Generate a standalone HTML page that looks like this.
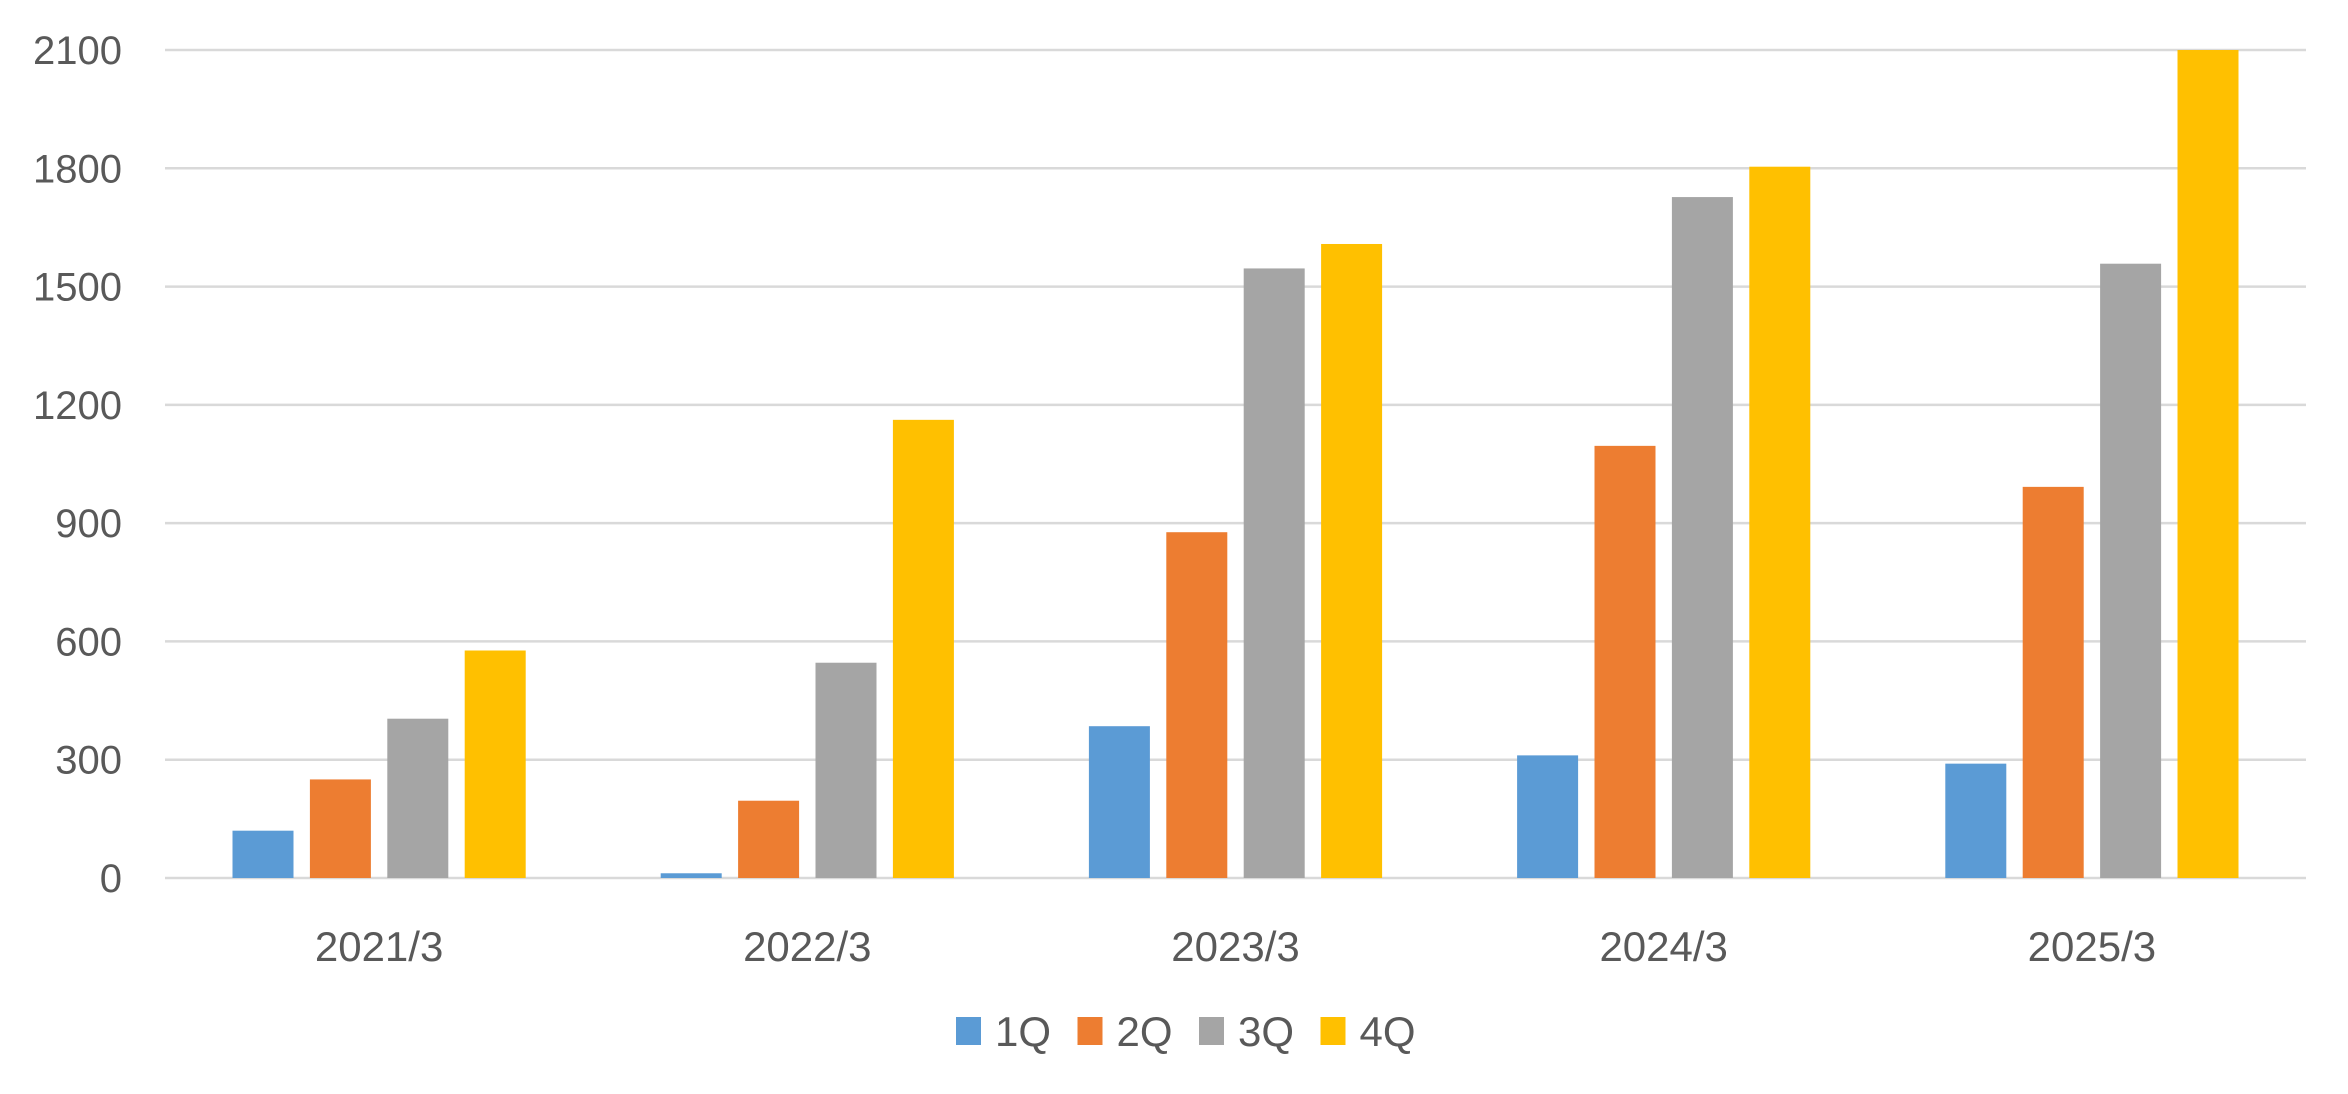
<!DOCTYPE html>
<html><head><meta charset="utf-8"><style>
html,body{margin:0;padding:0;background:#fff;}
svg{display:block;font-family:"Liberation Sans",sans-serif;}
</style></head><body>
<svg id="chart" width="2348" height="1094" viewBox="0 0 2348 1094" xmlns="http://www.w3.org/2000/svg">
<g id="grid"></g>
<g id="yaxis"></g>
<g id="bars"></g>
<g id="xaxis"></g>
<g id="legend"></g>
</svg>
<script>
const categories = ["2021/3","2022/3","2023/3","2024/3","2025/3"];
const seriesNames = ["1Q","2Q","3Q","4Q"];
const q1 = [120, 12, 385, 311, 290];
const q2 = [250, 196, 877, 1096, 992];
const q3 = [404, 546, 1546, 1727, 1558];
const q4 = [577, 1162, 1608, 1804, 2100];
const yTicks = [0, 300, 600, 900, 1200, 1500, 1800, 2100];

const series = [q1, q2, q3, q4];
const colors = ["#5b9bd5", "#ed7d31", "#a5a5a5", "#ffc000"];
const NS = "http://www.w3.org/2000/svg";
const plotL = 165, plotR = 2306, plotT = 50, plotB = 878;
const yMax = 2100;
function y(v){ return plotB - (v / yMax) * (plotB - plotT); }
const catW = (plotR - plotL) / categories.length;
const barW = 61, barPitch = 77.4;
const groupW = barPitch * (series.length - 1) + barW;
function x(ci, si){ return plotL + ci * catW + (catW - groupW) / 2 + si * barPitch; }
function mk(tag, attrs, parent){
  const e = document.createElementNS(NS, tag);
  for (const k in attrs) e.setAttribute(k, attrs[k]);
  parent.appendChild(e);
  return e;
}
const grid = document.getElementById("grid");
const yaxis = document.getElementById("yaxis");
yTicks.forEach(t => {
  const l = mk("line", {x1: plotL, x2: plotR, y1: y(t), y2: y(t), stroke: "#d9d9d9", "stroke-width": 2.5}, grid);
  
  
  const tx = mk("text", {x: 122, y: y(t) + 14, "text-anchor": "end", "font-size": 40, fill: "#595959"}, yaxis);
  tx.textContent = t;
  
  
});
const bars = document.getElementById("bars");
series.forEach((s, si) => {
  s.forEach((v, ci) => {
    const r = mk("rect", {x: x(ci, si), y: y(v), width: barW, height: plotB - y(v), fill: colors[si]}, bars);
    
    
  });
});
const xaxis = document.getElementById("xaxis");
categories.forEach((c, ci) => {
  const tx = mk("text", {x: plotL + ci * catW + catW / 2, y: 961, "text-anchor": "middle", "font-size": 42, fill: "#595959"}, xaxis);
  tx.textContent = c;
  
  
});
const legend = document.getElementById("legend");
seriesNames.forEach((n, i) => {
  const lx = 956 + i * 121.5;
  const g = mk("g", {}, legend);
  
  
  const sq = mk("rect", {x: lx, y: 1017, width: 25, height: 28, fill: colors[i]}, g);
  
  
  const tx = mk("text", {x: lx + 39, y: 1046, "font-size": 42, fill: "#595959"}, g);
  tx.textContent = n;
  
  
});
</script>
</body></html>
